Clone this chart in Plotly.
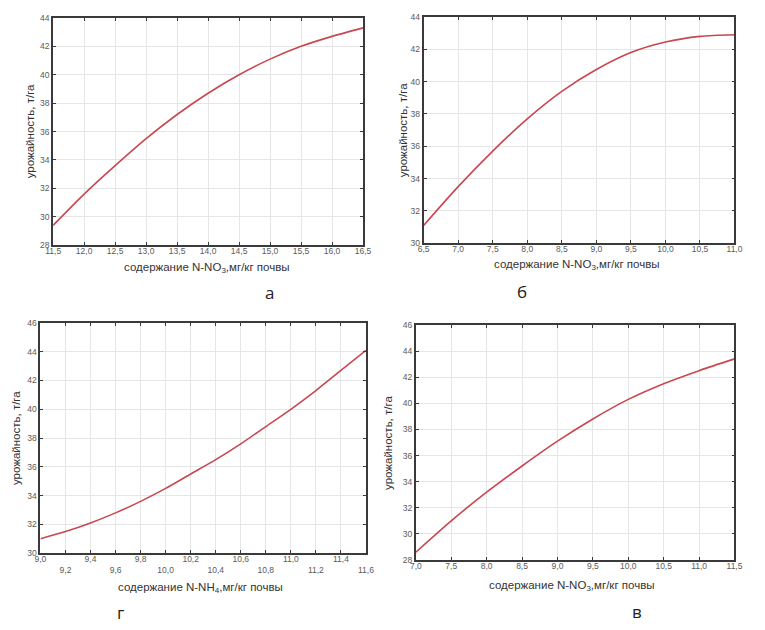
import plotly.graph_objects as go

# ---- data ----
xa = [11.5, 12.0, 12.5, 13.0, 13.5, 14.0, 14.5, 15.0, 15.5, 16.0, 16.5]
ya = [29.4, 31.6, 33.6, 35.5, 37.2, 38.7, 40.0, 41.1, 42.0, 42.7, 43.3]

xb = [6.5, 7.0, 7.5, 8.0, 8.5, 9.0, 9.5, 10.0, 10.5, 11.0]
yb = [31.1, 33.5, 35.7, 37.7, 39.4, 40.75, 41.8, 42.45, 42.8, 42.9]

xg = [9.0, 9.2, 9.4, 9.6, 9.8, 10.0, 10.2, 10.4, 10.6, 10.8, 11.0, 11.2, 11.4, 11.6]
yg = [31.0, 31.5, 32.1, 32.8, 33.6, 34.5, 35.5, 36.5, 37.6, 38.8, 40.0, 41.3, 42.7, 44.1]

xv = [7.0, 7.5, 8.0, 8.5, 9.0, 9.5, 10.0, 10.5, 11.0, 11.5]
yv = [28.6, 31.0, 33.2, 35.2, 37.1, 38.8, 40.3, 41.5, 42.5, 43.4]

xticks_a = [11.5, 12.0, 12.5, 13.0, 13.5, 14.0, 14.5, 15.0, 15.5, 16.0, 16.5]
xticks_b = [6.5, 7.0, 7.5, 8.0, 8.5, 9.0, 9.5, 10.0, 10.5, 11.0]
xticks_g = [9.0, 9.2, 9.4, 9.6, 9.8, 10.0, 10.2, 10.4, 10.6, 10.8, 11.0, 11.2, 11.4, 11.6]
xticks_v = [7.0, 7.5, 8.0, 8.5, 9.0, 9.5, 10.0, 10.5, 11.0, 11.5]

yticks_a = [28, 30, 32, 34, 36, 38, 40, 42, 44]
yticks_b = [30, 32, 34, 36, 38, 40, 42, 44]
yticks_g = [30, 32, 34, 36, 38, 40, 42, 44, 46]
yticks_v = [28, 30, 32, 34, 36, 38, 40, 42, 44, 46]

title_no3 = "содержание N-NO<sub>3</sub>,мг/кг почвы"
title_nh4 = "содержание N-NH<sub>4</sub>,мг/кг почвы"
title_y = "урожайность, т/га"
panel_letters = ["а", "б", "г", "в"]


def fmt(v):
    return f"{v:.1f}".replace(".", ",")


# page has an 8px body margin: figure is placed at (8, 8) in the window
OFF = 8
W, H = 765 - OFF, 630 - OFF
RED = "#c9474f"
FRAME = "#3a3a3a"
GRID = "#e6e6e6"
TICKC = "#5a5a5a"
FONT = "Liberation Sans, Arial, sans-serif"


def px(xp):
    return (xp - OFF) / W


def py(yp):
    return 1 - (yp - OFF) / H


fig = go.Figure()

panels = [
    # x, y, xticks, yticks, xrange, yrange, xtitle, box(window px: left,right,top,bottom), stagger
    (xa, ya, xticks_a, yticks_a, [11.5, 16.5], [28, 44], title_no3, (46, 363, 13, 244), False),
    (xb, yb, xticks_b, yticks_b, [6.5, 11.0], [30, 44], title_no3, (425, 743, 12, 242), False),
    (xg, yg, xticks_g, yticks_g, [9.0, 11.6], [30, 46], title_nh4, (33, 366, 323, 557), True),
    (xv, yv, xticks_v, yticks_v, [7.0, 11.5], [28, 46], title_no3, (417, 743, 325, 564), False),
]

letter_pos = [(267, 292), (526, 291), (115, 617), (643, 616)]
xtitle_pos = [(203, 267), (582, 264), (197, 592), (577, 590)]
ytitle_x = [22, 404, 8, 389]

for i, (x, y, xt, yt, xr, yr, xtitle, box, stagger) in enumerate(panels):
    n = "" if i == 0 else str(i + 1)
    l, r, t, b = box
    fig.add_trace(go.Scatter(
        x=x, y=y, mode="lines", line=dict(color=RED, width=1.6, shape="spline", smoothing=0.8),
        xaxis="x" + n, yaxis="y" + n, showlegend=False, hoverinfo="x+y"))
    if stagger:
        ttext = [fmt(v) if k % 2 == 0 else "<br>" + fmt(v) for k, v in enumerate(xt)]
    else:
        ttext = [fmt(v) for v in xt]
    common = dict(showline=True, linecolor=FRAME, linewidth=1.8, mirror="ticks",
                  ticks="inside", ticklen=3, tickcolor=FRAME, tickwidth=1,
                  showgrid=True, gridcolor=GRID, gridwidth=1, zeroline=False,
                  tickfont=dict(family=FONT, size=8.5, color=TICKC), fixedrange=True)
    fig.update_layout(**{
        "xaxis" + n: dict(domain=[px(l), px(r)], range=xr, tickvals=xt, ticktext=ttext,
                          anchor="y" + n, ticklabelstandoff=-3, **common),
        "yaxis" + n: dict(domain=[py(b), py(t)], range=yr, tickvals=yt,
                          ticktext=[str(v) for v in yt], anchor="x" + n, **common),
    })
    fig.add_annotation(x=px(xtitle_pos[i][0]), y=py(xtitle_pos[i][1]), xref="paper", yref="paper",
                       text=xtitle, showarrow=False, xanchor="center", yanchor="middle",
                       font=dict(family=FONT, size=11.5, color="#333333"))
    fig.add_annotation(x=px(ytitle_x[i]), y=py((t + b) / 2), xref="paper", yref="paper",
                       text=title_y, showarrow=False, textangle=-90, xanchor="center", yanchor="middle",
                       font=dict(family=FONT, size=11.5, color="#333333"))
    fig.add_annotation(x=px(letter_pos[i][0]), y=py(letter_pos[i][1]), xref="paper", yref="paper",
                       text=panel_letters[i], showarrow=False, xanchor="center", yanchor="middle",
                       font=dict(family="Open Sans, sans-serif", size=17, color="#222222"))

fig.update_layout(width=W, height=H, margin=dict(l=0, r=0, t=0, b=0),
                  paper_bgcolor="white", plot_bgcolor="white", showlegend=False)

fig.write_html("out.html")
